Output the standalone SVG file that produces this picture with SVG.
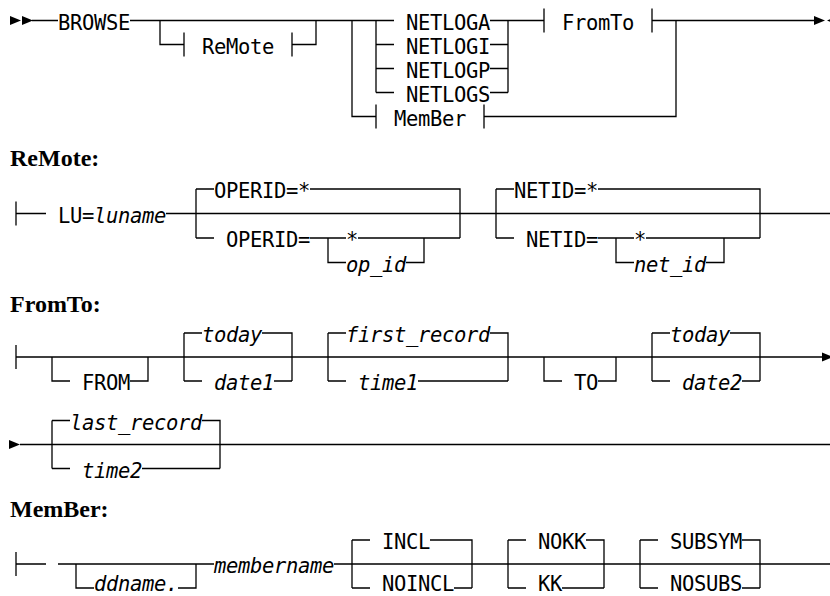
<svg xmlns="http://www.w3.org/2000/svg" width="830" height="596" viewBox="0 0 830 596">
<style>
.c{fill:none;stroke:#000;stroke-width:1.3}
.t{font-family:"DejaVu Sans Mono","Liberation Mono",monospace;font-size:20.5px;fill:#000;letter-spacing:-0.34px}
.i{font-style:italic}
.h{font-family:"Liberation Serif","Times New Roman",serif;font-size:24px;font-weight:bold;fill:#000}
.a{fill:#000}
</style>
<defs>
<polygon id="ar" points="0,-4.5 11,0 0,4.5"/>
<polygon id="al" points="0,-4.5 -11,0 0,4.5"/>
</defs>
<rect width="830" height="596" fill="#fff"/>

<!-- Main BROWSE diagram -->
<g id="connectors-main" class="c">
<path d="M32,20.5H58M130,20.5H394M490,20.5H544M544,8.5V32.5M652,8.5V32.5M652,20.5H814"/>
<path d="M160,20.5V44.5H184M184,32.5V56.5M292,32.5V56.5M292,44.5H316V20.5"/>
<path d="M352,20.5V116.5H376M376,104.5V128.5"/>
<path d="M376,20.5V92.5M376,44.5H394M376,68.5H394M376,92.5H394"/>
<path d="M490,44.5H508M490,68.5H508M490,92.5H508M508,20.5V92.5"/>
<path d="M484,104.5V128.5M484,116.5H676V20.5"/>
</g>
<g id="arrows-main" class="a">
<use href="#ar" x="10" y="20.5"/>
<use href="#ar" x="22" y="20.5"/>
<use href="#ar" x="814" y="20.5"/>
<use href="#al" x="838" y="20.5"/>
</g>
<g id="n-browse"><text class="t" x="58" y="29.5">BROWSE</text></g>
<g id="n-remote-ref"><text class="t" x="202" y="53.5">ReMote</text></g>
<g id="n-netloga"><text class="t" x="406" y="29.5">NETLOGA</text></g>
<g id="n-netlogi"><text class="t" x="406" y="53.5">NETLOGI</text></g>
<g id="n-netlogp"><text class="t" x="406" y="77.5">NETLOGP</text></g>
<g id="n-netlogs"><text class="t" x="406" y="101.5">NETLOGS</text></g>
<g id="n-member-ref"><text class="t" x="394" y="125.5">MemBer</text></g>
<g id="n-fromto-ref"><text class="t" x="562" y="29.5">FromTo</text></g>

<!-- ReMote fragment -->
<g id="h-remote"><text class="h" x="10" y="166">ReMote:</text></g>
<g id="connectors-remote" class="c">
<path d="M16,201.5V225.5M16,213.5H46M166,213.5H830"/>
<path d="M196,189V238M196,189H214M310,189H460V238M196,238H214M310,238H346M358,238H460M328,238V262.5H346M406,262.5H424V238"/>
<path d="M496,189V238M496,189H514M598,189H760V238M496,238H514M598,238H634M646,238H760M616,238V262.5H634M706,262.5H724V238"/>
</g>
<g id="n-lu"><text class="t" x="58" y="222.5">LU=<tspan class="i">luname</tspan></text></g>
<g id="n-operid-def"><text class="t" x="214" y="198">OPERID=*</text></g>
<g id="n-operid"><text class="t" x="226" y="247">OPERID=</text></g>
<g id="n-operid-star"><text class="t" x="346" y="247">*</text></g>
<g id="n-opid"><text class="t i" x="346" y="271.5">op_id</text></g>
<g id="n-netid-def"><text class="t" x="514" y="198">NETID=*</text></g>
<g id="n-netid"><text class="t" x="526" y="247">NETID=</text></g>
<g id="n-netid-star"><text class="t" x="634" y="247">*</text></g>
<g id="n-netidv"><text class="t i" x="634" y="271.5">net_id</text></g>

<!-- FromTo fragment -->
<g id="h-fromto"><text class="h" x="10" y="312">FromTo:</text></g>
<g id="connectors-fromto" class="c">
<path d="M16,345V369M16,357H822"/>
<path d="M52,357V381H70M130,381H148V357"/>
<path d="M184,333V381M184,333H202M262,333H292V381M184,381H202M274,381H292"/>
<path d="M328,333V381M328,333H346M490,333H508V381M328,381H346M418,381H508"/>
<path d="M544,357V381H562M598,381H616V357"/>
<path d="M652,333V381M652,333H670M730,333H760V381M652,381H670M742,381H760"/>
<path d="M20,444.5H830"/>
<path d="M52,420.5V468.5M52,420.5H70M202,420.5H220V468.5M52,468.5H70M142,468.5H220"/>
</g>
<g id="arrows-fromto" class="a">
<use href="#ar" x="822" y="357"/>
<use href="#ar" x="9" y="444.5"/>
</g>
<g id="n-from"><text class="t" x="82" y="390">FROM</text></g>
<g id="n-today1"><text class="t i" x="202" y="342">today</text></g>
<g id="n-date1"><text class="t i" x="214" y="390">date1</text></g>
<g id="n-first"><text class="t i" x="346" y="342">first_record</text></g>
<g id="n-time1"><text class="t i" x="358" y="390">time1</text></g>
<g id="n-to"><text class="t" x="574" y="390">TO</text></g>
<g id="n-today2"><text class="t i" x="670" y="342">today</text></g>
<g id="n-date2"><text class="t i" x="682" y="390">date2</text></g>
<g id="n-last"><text class="t i" x="70" y="429.5">last_record</text></g>
<g id="n-time2"><text class="t i" x="82" y="477.5">time2</text></g>

<!-- MemBer fragment -->
<g id="h-member"><text class="h" x="10" y="517">MemBer:</text></g>
<g id="connectors-member" class="c">
<path d="M16,552V576M16,564H46M58,564H214M334,564H830"/>
<path d="M76,564V588H94M178,588H196V564"/>
<path d="M352,540V588M352,540H370M430,540H472V588M352,588H370M454,588H472"/>
<path d="M508,540V588M508,540H526M586,540H604V588M508,588H526M562,588H604"/>
<path d="M640,540V588M640,540H658M742,540H760V588M640,588H658M742,588H760"/>
</g>
<g id="n-ddname"><text class="t i" x="94" y="590.5">ddname.</text></g>
<g id="n-membername"><text class="t i" x="214" y="572.5">membername</text></g>
<g id="n-incl"><text class="t" x="382" y="548.5">INCL</text></g>
<g id="n-noincl"><text class="t" x="382" y="590.5">NOINCL</text></g>
<g id="n-nokk"><text class="t" x="538" y="548.5">NOKK</text></g>
<g id="n-kk"><text class="t" x="538" y="590.5">KK</text></g>
<g id="n-subsym"><text class="t" x="670" y="548.5">SUBSYM</text></g>
<g id="n-nosubs"><text class="t" x="670" y="590.5">NOSUBS</text></g>
</svg>
